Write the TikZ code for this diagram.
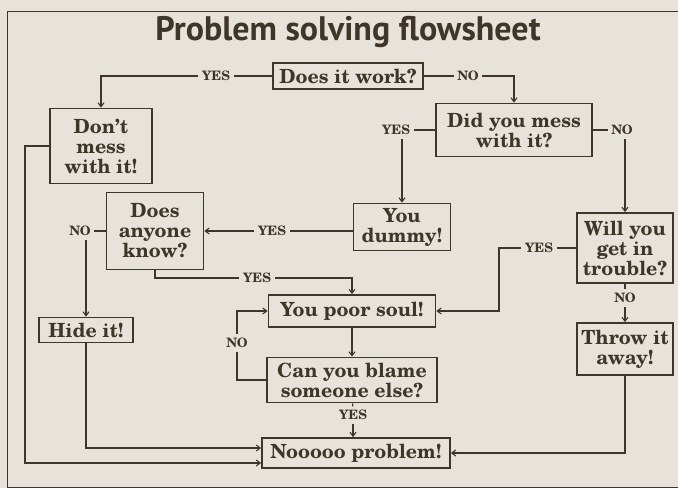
\documentclass[tikz,border=0pt]{standalone}
\usepackage{fontspec}
\setmainfont{texgyreschola}[Extension=.otf, UprightFont=*-regular, BoldFont=*-bold]
\newfontfamily\titlefont{PT Sans}
\usepackage{tikz}
\usetikzlibrary{arrows.meta}
\definecolor{paper}{HTML}{E8E3DA}
\definecolor{ink}{HTML}{3E3729}

\begin{document}
\begin{tikzpicture}[x=1pt, y=-1pt, >={Straight Barb[length=4pt,width=6pt]},
  box/.style={draw=ink, line width=1.7pt, text=ink, fill=paper, align=center,
    inner sep=2pt, font=\bfseries\fontsize{19.5}{20}\selectfont},
  lbl/.style={text=ink, inner sep=3.5pt, font=\bfseries\fontsize{13}{14}\selectfont},
  wire/.style={draw=ink, line width=1.1pt}]

%% === Sheet and frame ===
\fill[paper] (0,0) rectangle (678,488);
\useasboundingbox (0,0) rectangle (678,488);
\draw[ink, line width=1pt] (678,11) -- (7,11) -- (7,487) -- (678,487);

% title
\node[text=ink, font=\titlefont\bfseries\fontsize{34}{40}\selectfont] (title) at (348,32)
  {Problem solving flowsheet};

%% === Boxes ===
\node[box, minimum width=150pt, minimum height=26pt] (work) at (348,76) {Does it work?};
\node[box, minimum width=102pt, minimum height=75pt] (dont) at (101,146) {Don't\\mess\\with it!};
\node[box, minimum width=156pt, minimum height=53pt] (mess) at (514,130) {Did you mess\\with it?};
\node[box, minimum width=97pt, minimum height=47pt] (dummy) at (402,227) {You\\dummy!};
\node[box, minimum width=97pt, minimum height=77pt] (anyone) at (155,231) {Does\\anyone\\know?};
\node[box, minimum width=94pt, minimum height=25pt] (hide) at (86,330) {Hide it!};
\node[box, minimum width=167pt, minimum height=32pt] (poor) at (352,311) {You poor soul!};
\node[box, minimum width=170pt, minimum height=45pt] (blame) at (352,380) {Can you blame\\someone else?};
\node[box, minimum width=188pt, minimum height=30pt] (nooo) at (356,453) {Nooooo problem!};
\node[box, minimum width=96pt, minimum height=70pt] (trouble) at (625,248) {Will you\\get in\\trouble?};
\node[box, minimum width=96pt, minimum height=52pt] (throw) at (625,349) {Throw it\\away!};

% answer labels
\foreach \n/\x/\y/\t in {yesA/216/76/YES, noA/468/76/NO, yesB/396/130/YES, noB/622/130/NO,
    yesC/272/231/YES, noC/80/231/NO, yesD/257/278/YES, yesE/539/248/YES,
    noD/237/343/NO, yesF/353/415/YES, noE/625/298/NO}
  \node[lbl] (\n) at (\x,\y) {\t};

%% === Connectors ===
% does it work?
\draw[wire] (work) -- (yesA);
\draw[wire, ->] (yesA) -| (dont);
\draw[wire] (work) -- (noA);
\draw[wire, ->] (noA) -| (mess);
% did you mess with it?
\draw[wire] (mess) -- (yesB);
\draw[wire, ->] (yesB.south -| dummy.north) -- (dummy);
\draw[wire] (mess) -- (noB);
\draw[wire, ->] (noB.south -| trouble.north) -- (trouble);
% you dummy / does anyone know?
\draw[wire] (yesC -| dummy.west) -- (yesC);
\draw[wire, ->] (yesC) -- (anyone);
\draw[wire] (anyone) -- (noC);
\draw[wire, ->] (noC.south -| hide.north) -- (hide);
\draw[wire] (anyone.south) |- (yesD);
\draw[wire, ->] (yesD) -| (poor);
% will you get in trouble?
\coordinate (bend) at (499,311);
\draw[wire] (trouble) -- (yesE);
\draw[wire, ->] (yesE) -| (bend) -- (poor);
\draw[wire] (trouble) -- (noE);
\draw[wire, ->] (noE) -- (throw);
% poor soul loop
\draw[wire, ->] (poor) -- (blame);
\draw[wire] (blame) -| (noD);
\draw[wire, ->] (noD) |- (poor);
\draw[wire] (blame) -- (yesF);
\draw[wire, ->] (yesF) -- (yesF |- nooo.north);
% into the last box
\coordinate (lside) at (25,463);
\draw[wire, ->] (throw) |- (nooo);
\draw[wire, ->] (hide) |- ([yshift=5pt]nooo.west);
\draw[wire, ->] (dont.west) -| (lside) -- (lside -| nooo.west);

\end{tikzpicture}
\end{document}
